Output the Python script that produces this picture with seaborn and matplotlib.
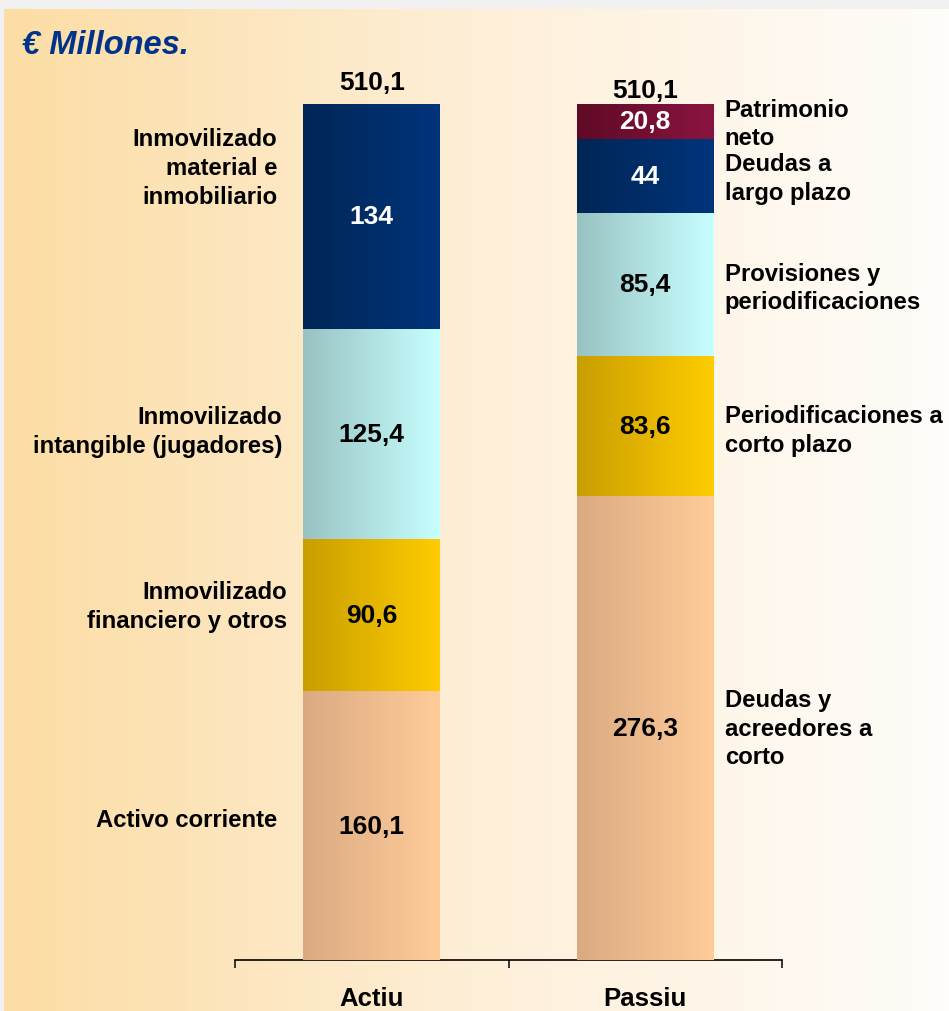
import numpy as np
import pandas as pd
import matplotlib
matplotlib.use("Agg")
import matplotlib.pyplot as plt
import seaborn as sns
from matplotlib.colors import LinearSegmentedColormap

# ---------------- data ----------------
categories = ["Actiu", "Passiu"]

actiu_labels = ["Activo corriente",
                "Inmovilizado\nfinanciero y otros",
                "Inmovilizado\nintangible (jugadores)",
                "Inmovilizado\nmaterial e\ninmobiliario"]
actiu_values = [160.1, 90.6, 125.4, 134.0]

passiu_labels = ["Deudas y\nacreedores a\ncorto",
                 "Periodificaciones a\ncorto plazo",
                 "Provisiones y\nperiodificaciones",
                 "Deudas a\nlargo plazo",
                 "Patrimonio\nneto"]
passiu_values = [276.3, 83.6, 85.4, 44.0, 20.8]

totals = [510.1, 510.1]

# ---------------- style ----------------
sns.set_theme(style="white")
plt.rcParams["font.family"] = ["Liberation Sans", "DejaVu Sans"]

W, H = 949, 1012
fig = plt.figure(figsize=(W / 100, H / 100), dpi=100, facecolor="#F1F1F1")

# background gradient
bg = fig.add_axes([4 / W, 0, 1 - 4 / W, 1 - 10 / H], zorder=-10)
bg_cmap = LinearSegmentedColormap.from_list("bg", ["#FCDDA4", "#FEEFD8", "#FFFDFA"])
bg.imshow(np.linspace(0, 1, 512).reshape(1, -1), cmap=bg_cmap, aspect="auto",
          extent=[0, 1, 0, 1])
bg.set_axis_off()

ax = fig.add_axes([235 / W, (H - 961) / H, 547 / W, (961 - 105) / H])
ax.set_facecolor("none")

seg_colors = {
    "tan": ("#DAAA82", "#FFCC99"),
    "gold": ("#C89E00", "#FFCC00"),
    "cyan": ("#99C2C2", "#C8FFFF"),
    "navy": ("#002656", "#00347A"),
    "maroon": ("#5E0A26", "#8A1440"),
}
actiu_colors = ["tan", "gold", "cyan", "navy"]
passiu_colors = ["tan", "gold", "cyan", "navy", "maroon"]
actiu_text_col = ["black", "black", "black", "white"]
passiu_text_col = ["black", "black", "black", "white", "white"]

def fmt(v):
    if abs(v - round(v)) < 1e-9:
        return str(int(round(v)))
    return f"{v:.1f}".replace(".", ",")

BOLD = dict(fontweight="bold", color="black")
VAL_FS = 19
LAB_FS = 17.2
LSP = 1.32

def draw_stack(cat, values, colors, tcols):
    cum = np.cumsum(values)
    patches = []
    # draw cumulative bars from tallest to shortest
    for k in range(len(values) - 1, -1, -1):
        df = pd.DataFrame({"cat": [cat], "val": [cum[k]]})
        sns.barplot(data=df, x="cat", y="val", order=categories, ax=ax,
                    color=seg_colors[colors[k]][1], width=0.5, errorbar=None,
                    saturation=1, linewidth=0, zorder=2)
        patches.append(ax.patches[-1])
    patches = patches[::-1]
    bottoms = np.concatenate([[0], cum[:-1]])
    for k, p in enumerate(patches):
        x0, w = p.get_x(), p.get_width()
        cmap = LinearSegmentedColormap.from_list("g", list(seg_colors[colors[k]]))
        ax.imshow(np.linspace(0, 1, 256).reshape(1, -1), cmap=cmap, aspect="auto",
                  extent=[x0, x0 + w, bottoms[k], cum[k]], zorder=3,
                  interpolation="bilinear")
        ax.text(x0 + w / 2, (bottoms[k] + cum[k]) / 2, fmt(values[k]),
                ha="center", va="center", fontsize=VAL_FS, fontweight="bold",
                color=tcols[k], zorder=5)
    return patches, bottoms, cum

ap, ab, ac = draw_stack("Actiu", actiu_values, actiu_colors, actiu_text_col)
pp, pb, pc = draw_stack("Passiu", passiu_values, passiu_colors, passiu_text_col)

ax.set_xlim(-0.5, 1.5)
ax.set_ylim(0, 510.1)

# totals above bars
tot_off = [22, 14]
for i, (t, p) in enumerate(zip(totals, [ap[-1], pp[-1]])):
    ax.annotate(fmt(t), xy=(p.get_x() + p.get_width() / 2, t),
                xytext=(0, tot_off[i]), textcoords="offset pixels",
                ha="center", va="center", fontsize=VAL_FS, annotation_clip=False, **BOLD)

# left labels (Actiu)
left_dx = [-26, -16, -21, -26]
left_dy = [6, 9, 3, 49]
for k, lab in enumerate(actiu_labels):
    p = ap[k]
    ax.annotate(lab, xy=(p.get_x(), (ab[k] + ac[k]) / 2),
                xytext=(left_dx[k], left_dy[k]), textcoords="offset pixels",
                ha="right", va="center", multialignment="right", fontsize=LAB_FS,
                linespacing=LSP, annotation_clip=False, **BOLD)

# right labels (Passiu)
right_dy = [0, -4, -3, -2, -2]
for k, lab in enumerate(passiu_labels):
    p = pp[k]
    ax.annotate(lab, xy=(p.get_x() + p.get_width(), (pb[k] + pc[k]) / 2),
                xytext=(11, right_dy[k]), textcoords="offset pixels",
                ha="left", va="center", multialignment="left", fontsize=LAB_FS,
                linespacing=LSP, annotation_clip=False, **BOLD)

# axes styling
for s in ["top", "left", "right"]:
    ax.spines[s].set_visible(False)
ax.spines["bottom"].set_color("black")
ax.spines["bottom"].set_linewidth(1.2)
ax.set_yticks([])
ax.set_xticks([-0.5, 0.5, 1.5], labels=["", "", ""])
ax.tick_params(axis="x", which="major", direction="out", length=6, width=1.1,
               color="black", bottom=True)
ax.set_xticks([0, 1], labels=categories, minor=True)
ax.tick_params(axis="x", which="minor", length=0, pad=19, labelsize=18.5)
for t in ax.get_xticklabels(minor=True):
    t.set_fontweight("bold")
    t.set_color("black")
ax.set_xlabel("")
ax.set_ylabel("")

fig.text(22 / W, 1 - 46 / H, "€ Millones.", fontsize=23.5, fontweight="bold",
         fontstyle="italic", color="#00338A", ha="left", va="center")

fig.savefig("out.png", dpi=100, facecolor=fig.get_facecolor())
